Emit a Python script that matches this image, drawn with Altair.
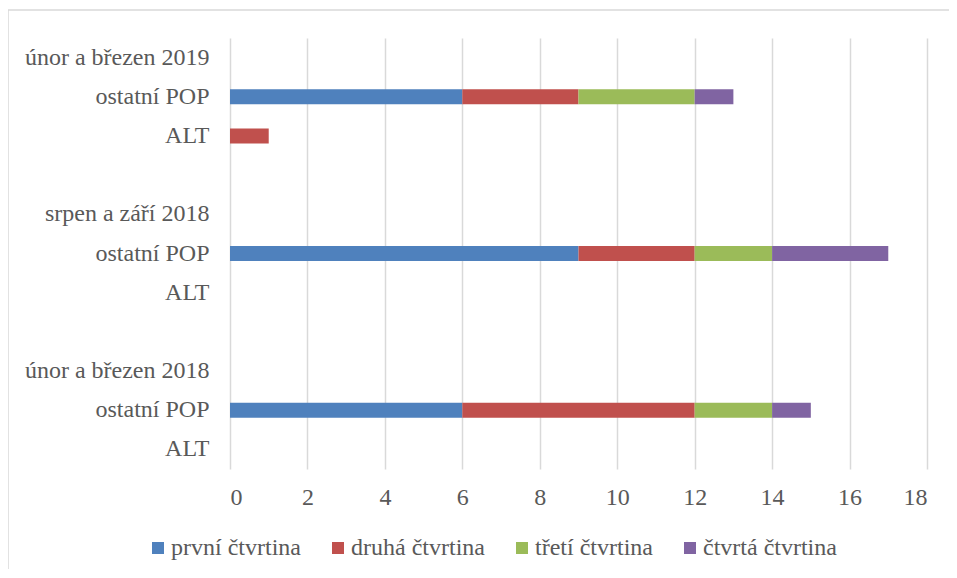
import json
import altair as alt
import pandas as pd

keys = ["g2019", "p2019", "a2019", "s1", "g2018b", "p2018b", "a2018b", "s2", "g2018a", "p2018a", "a2018a"]
labels = ["únor a březen 2019", "ostatní POP", "ALT", "", "srpen a září 2018", "ostatní POP", "ALT", "",
          "únor a březen 2018", "ostatní POP", "ALT"]

quarters = ["první čtvrtina", "druhá čtvrtina", "třetí čtvrtina", "čtvrtá čtvrtina"]
colors = ["#4F81BD", "#C0504D", "#9BBB59", "#8064A2"]

prvni = [0, 6, 0, 0, 0, 9, 0, 0, 0, 6, 0]
druha = [0, 3, 1, 0, 0, 3, 0, 0, 0, 6, 0]
treti = [0, 3, 0, 0, 0, 2, 0, 0, 0, 2, 0]
ctvrta = [0, 1, 0, 0, 0, 3, 0, 0, 0, 1, 0]

series = [prvni, druha, treti, ctvrta]
records = []
for qi, (q, vals) in enumerate(zip(quarters, series)):
    for k, v in zip(keys, vals):
        if v > 0:
            records.append({"row": k, "quarter": q, "value": v, "ord": qi})
df = pd.DataFrame(records)

label_map = json.dumps(dict(zip(keys, labels)), ensure_ascii=False)

FONT = "'Liberation Serif', 'Times New Roman', 'DejaVu Serif', serif"
TXT = "#595959"
FS = 24

bars = alt.Chart(df).mark_bar().encode(
    y=alt.Y("row:N",
            scale=alt.Scale(domain=keys, paddingInner=0.62, paddingOuter=0.31),
            axis=alt.Axis(title=None, labelExpr=label_map + "[datum.value]",
                          labelFont=FONT, labelFontSize=FS, labelColor=TXT, labelLimit=400,
                          labelPadding=21, ticks=False, domain=False, grid=False)),
    x=alt.X("value:Q", stack="zero",
            scale=alt.Scale(domain=[0, 18], nice=False),
            axis=alt.Axis(title=None, values=list(range(0, 19, 2)), grid=True,
                          gridColor="#D9D9D9", gridWidth=1.5, domain=False, ticks=False,
                          labelFont=FONT, labelFontSize=FS, labelColor=TXT, labelPadding=16)),
    color=alt.Color("quarter:N",
                    scale=alt.Scale(domain=quarters, range=colors),
                    legend=alt.Legend(title=None, orient="none", legendX=-84, legendY=498,
                                      direction="horizontal", symbolType="square",
                                      symbolSize=144, symbolStrokeWidth=0,
                                      labelFont=FONT, labelFontSize=FS, labelColor=TXT,
                                      labelLimit=400, labelOffset=1, columnPadding=25)),
    order=alt.Order("ord:Q"),
)

frame_data = pd.DataFrame({"a": [0]})
frame_top = alt.Chart(frame_data).mark_rule(color="#D9D9D9", strokeWidth=1.5).encode(
    x=alt.value(-222), x2=alt.value(760), y=alt.value(-28)
)
frame_left = alt.Chart(frame_data).mark_rule(color="#D9D9D9", strokeWidth=1.5).encode(
    x=alt.value(-222), y=alt.value(-28), y2=alt.value(600)
)

chart = alt.layer(frame_top, frame_left, bars).properties(
    width=697, height=431,
    autosize=alt.AutoSizeParams(type="none"),
    padding={"left": 222, "top": 30, "right": 22, "bottom": 100},
    background="white",
).configure(font=FONT).configure_view(stroke=None).configure_axis(
    labelFont=FONT
).configure_legend(labelFont=FONT)

chart.save("out.html", embed_options={"renderer": "svg", "actions": False})
